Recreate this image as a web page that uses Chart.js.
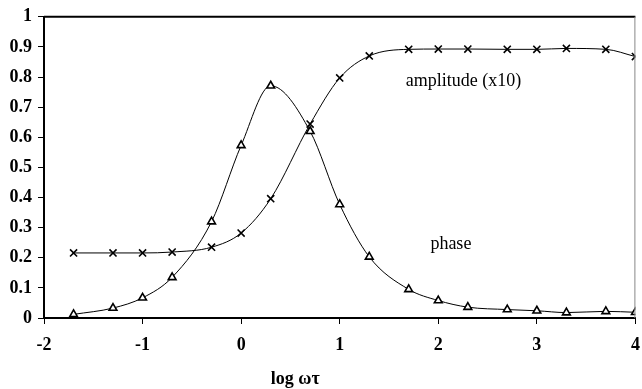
<!DOCTYPE html>
<html><head><meta charset="utf-8">
<script src="https://cdn.jsdelivr.net/npm/chart.js@4/dist/chart.umd.min.js"></script>
<style>html,body{margin:0;padding:0;background:#fff}#wrap{width:642px;height:389px}</style>
</head><body><div id="wrap"><canvas id="c" width="642" height="389"></canvas></div>
<script>
const logOmegaTau = [-1.7,-1.3,-1,-0.7,-0.3,0,0.3,0.7,1,1.3,1.7,2,2.3,2.7,3,3.3,3.7,4];
const amplitudeX10 = [0.216,0.216,0.216,0.219,0.235,0.282,0.396,0.644,0.797,0.870,0.892,0.893,0.893,0.892,0.892,0.895,0.892,0.868];
const phase = [0.012,0.033,0.067,0.135,0.320,0.573,0.771,0.620,0.377,0.203,0.095,0.058,0.036,0.028,0.024,0.018,0.022,0.019];
const yTicks = [0,0.1,0.2,0.3,0.4,0.5,0.6,0.7,0.8,0.9,1];
const xTicks = [-2,-1,0,1,2,3,4];
const seriesLabels = ['amplitude (x10)','phase'];
const xTitle = 'log ωτ';

const pts = ys => logOmegaTau.map((x,i)=>({x, y: ys[i]}));

const annot = {
  id:'annot',
  afterDraw(chart){
    const {ctx, chartArea:a, scales:{x,y}} = chart;
    ctx.save();
    ctx.strokeStyle='#000'; ctx.lineWidth=2;
    ctx.beginPath(); ctx.moveTo(a.left, a.top); ctx.lineTo(a.right, a.top); ctx.stroke();
    ctx.strokeStyle='#888'; ctx.lineWidth=1;
    ctx.beginPath(); ctx.moveTo(a.right-0.5, a.top); ctx.lineTo(a.right-0.5, a.bottom); ctx.stroke();
    ctx.fillStyle='#000';
    ctx.textBaseline='middle';
    ctx.textAlign='left';
    ctx.font='18px "Liberation Serif", "DejaVu Serif", serif';
    ctx.fillText(seriesLabels[0], x.getPixelForValue(1.67), y.getPixelForValue(0.787));
    ctx.fillText(seriesLabels[1], x.getPixelForValue(1.92), y.getPixelForValue(0.246));
    ctx.textAlign='center';
    ctx.font='bold 18px "Liberation Serif", "DejaVu Serif", serif';
    ctx.fillText(xTitle, x.getPixelForValue(0.55), a.bottom + 61);
    ctx.restore();
  }
};

new Chart(document.getElementById('c'), {
  type:'scatter',
  data:{ datasets:[
    {label:seriesLabels[0], data:pts(amplitudeX10), showLine:true, borderColor:'#000', borderWidth:1,
     cubicInterpolationMode:'monotone', pointStyle:'crossRot', pointRadius:5, pointBorderWidth:1.6,
     pointBorderColor:'#000', pointBackgroundColor:'#fff'},
    {label:seriesLabels[1], data:pts(phase), showLine:true, borderColor:'#000', borderWidth:1,
     cubicInterpolationMode:'monotone', pointStyle:'triangle', pointRadius:4.5, pointBorderWidth:1.6,
     pointBorderColor:'#000', pointBackgroundColor:'#fff'}
  ]},
  options:{
    responsive:false, animation:false, devicePixelRatio:1,
    layout:{padding:{top:13,right:2,left:0,bottom:0}},
    plugins:{legend:{display:false}, tooltip:{enabled:false}},
    scales:{
      x:{type:'linear', min:-2, max:4,
         afterBuildTicks(s){ s.ticks = xTicks.map(v=>({value:v})); },
         afterFit(s){ s.height = 71; s.paddingLeft = 0; s.paddingRight = 0; },
         grid:{drawOnChartArea:false, drawTicks:true, tickLength:6, tickColor:'#000', tickWidth:1},
         border:{color:'#000', width:2},
         ticks:{color:'#000', padding:11, maxRotation:0, autoSkip:false,
                font:{family:'"Liberation Serif", serif', size:18, weight:'bold'}}},
      y:{type:'linear', min:0, max:1,
         afterBuildTicks(s){ s.ticks = yTicks.map(v=>({value:v})); },
         afterFit(s){ s.width = 44; },
         grid:{drawOnChartArea:false, drawTicks:true, tickLength:6, tickColor:'#000', tickWidth:1},
         border:{color:'#000', width:2},
         ticks:{color:'#000', padding:6, autoSkip:false, callback:v=>String(Math.round(v*10)/10),
                font:{family:'"Liberation Serif", serif', size:18, weight:'bold'}}}
    }
  },
  plugins:[annot]
});
</script></body></html>
